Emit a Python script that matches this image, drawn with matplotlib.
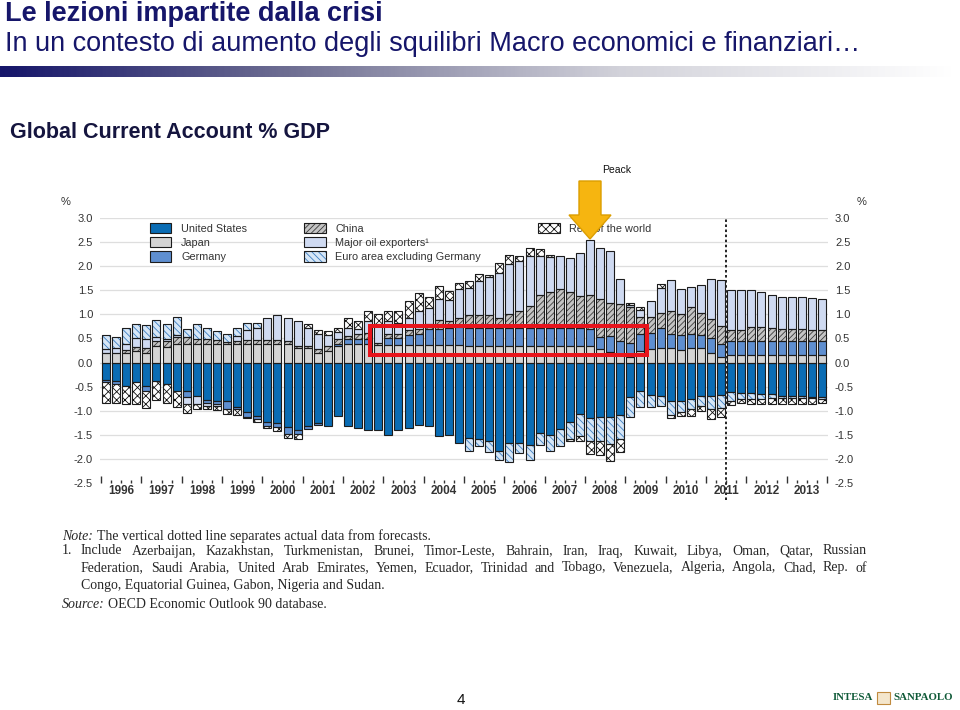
import numpy as np
import matplotlib
matplotlib.use("Agg")
import matplotlib.pyplot as plt
import matplotlib.transforms as mtransforms
from matplotlib.patches import Patch, Polygon, Rectangle
from matplotlib.legend_handler import HandlerTuple
from matplotlib.colors import LinearSegmentedColormap

plt.rcParams['font.family'] = ['Liberation Sans', 'DejaVu Sans']
plt.rcParams['hatch.linewidth'] = 0.6

# quarterly data, 1996Q1 - 2013Q4, % of world GDP
years = list(range(1996, 2014))

us = [-0.37, -0.38, -0.48, -0.41, -0.48, -0.39, -0.45, -0.59, -0.59, -0.69, -0.78, -0.79,
      -0.79, -0.93, -1.03, -1.10, -1.24, -1.26, -1.34, -1.40, -1.31, -1.26, -1.31, -1.10,
      -1.31, -1.36, -1.41, -1.41, -1.50, -1.41, -1.36, -1.30, -1.31, -1.52, -1.50, -1.66,
      -1.57, -1.59, -1.62, -1.83, -1.68, -1.66, -1.72, -1.47, -1.50, -1.38, -1.24, -1.07,
      -1.16, -1.12, -1.12, -1.08, -0.71, -0.60, -0.67, -0.69, -0.79, -0.79, -0.76, -0.69,
      -0.70, -0.67, -0.62, -0.63, -0.64, -0.65, -0.66, -0.69, -0.70, -0.70, -0.71, -0.72]

japan = [0.20, 0.19, 0.19, 0.24, 0.20, 0.34, 0.32, 0.38, 0.38, 0.38, 0.38, 0.38,
         0.38, 0.38, 0.38, 0.38, 0.38, 0.38, 0.38, 0.30, 0.30, 0.20, 0.24, 0.35,
         0.38, 0.39, 0.38, 0.37, 0.37, 0.37, 0.37, 0.37, 0.37, 0.37, 0.37, 0.37,
         0.35, 0.35, 0.35, 0.35, 0.35, 0.35, 0.35, 0.35, 0.35, 0.35, 0.35, 0.35,
         0.34, 0.28, 0.22, 0.17, 0.12, 0.24, 0.28, 0.30, 0.30, 0.25, 0.30, 0.30,
         0.20, 0.12, 0.16, 0.16, 0.16, 0.16, 0.16, 0.16, 0.16, 0.16, 0.16, 0.16]

germany = [-0.04, -0.07, 0.00, 0.00, -0.11, 0.00, 0.00, 0.00, -0.12, 0.00, -0.05, -0.07,
           -0.18, -0.03, -0.10, -0.07, -0.07, -0.07, -0.14, -0.08, -0.07, -0.04, 0.00, 0.04,
           0.10, 0.09, 0.10, 0.00, 0.13, 0.13, 0.20, 0.22, 0.33, 0.33, 0.35, 0.37,
           0.37, 0.37, 0.37, 0.37, 0.37, 0.37, 0.37, 0.37, 0.37, 0.37, 0.37, 0.37,
           0.35, 0.24, 0.33, 0.28, 0.28, 0.36, 0.34, 0.42, 0.30, 0.33, 0.30, 0.28,
           0.30, 0.26, 0.29, 0.29, 0.29, 0.29, 0.29, 0.29, 0.29, 0.29, 0.28, 0.28]

china = [0.00, 0.00, 0.07, 0.08, 0.11, 0.11, 0.13, 0.14, 0.14, 0.10, 0.10, 0.08,
         0.04, 0.07, 0.08, 0.08, 0.08, 0.09, 0.07, 0.04, 0.04, 0.08, 0.10, 0.09,
         0.08, 0.11, 0.14, 0.04, 0.09, 0.09, 0.10, 0.10, 0.10, 0.18, 0.14, 0.18,
         0.27, 0.27, 0.27, 0.20, 0.29, 0.36, 0.45, 0.68, 0.74, 0.80, 0.74, 0.67,
         0.72, 0.79, 0.68, 0.77, 0.75, 0.34, 0.32, 0.31, 0.47, 0.42, 0.55, 0.45,
         0.40, 0.37, 0.22, 0.22, 0.29, 0.29, 0.27, 0.25, 0.25, 0.25, 0.23, 0.23]

oil = [0.08, 0.12, 0.12, 0.18, 0.17, 0.07, 0.03, 0.05, -0.15, -0.17, -0.07, -0.05,
       0.00, 0.10, 0.21, 0.26, 0.46, 0.51, 0.47, 0.52, 0.37, 0.31, 0.24, 0.16,
       0.16, 0.10, 0.24, 0.38, 0.27, 0.24, 0.25, 0.37, 0.34, 0.43, 0.43, 0.60,
       0.55, 0.70, 0.79, 0.94, 1.04, 1.02, 1.04, 0.81, 0.73, 0.69, 0.71, 0.89,
       1.13, 1.07, 1.08, 0.52, 0.04, 0.16, 0.34, 0.52, 0.64, 0.52, 0.42, 0.57,
       0.84, 0.97, 0.83, 0.83, 0.76, 0.72, 0.69, 0.67, 0.67, 0.67, 0.67, 0.65]

euro = [0.29, 0.22, 0.33, 0.29, 0.30, 0.36, 0.33, 0.37, 0.17, 0.33, 0.24, 0.20,
        0.17, 0.16, 0.16, 0.11, 0.00, 0.00, 0.00, 0.00, 0.00, 0.00, 0.00, 0.00,
        0.00, 0.00, 0.00, 0.00, 0.00, 0.00, 0.00, 0.00, 0.00, 0.00, 0.00, 0.00,
        -0.26, -0.15, -0.23, -0.20, -0.39, -0.22, -0.31, -0.25, -0.33, -0.36, -0.35, -0.45,
        -0.46, -0.50, -0.57, -0.51, -0.43, -0.32, -0.25, -0.21, -0.30, -0.24, -0.21, -0.21,
        -0.27, -0.28, -0.18, -0.13, -0.12, -0.10, -0.08, -0.05, -0.04, -0.04, -0.03, -0.03]

rest = [-0.42, -0.38, -0.38, -0.45, -0.35, -0.39, -0.40, -0.34, -0.19, -0.11, -0.07, -0.08,
        -0.10, -0.12, -0.02, -0.07, -0.05, -0.10, -0.09, -0.10, 0.10, 0.08, 0.08, 0.08,
        0.21, 0.17, 0.20, 0.22, 0.22, 0.25, 0.36, 0.39, 0.22, 0.28, 0.19, 0.14,
        0.15, 0.14, 0.03, 0.21, 0.18, 0.11, 0.17, 0.15, 0.04, 0.00, -0.04, -0.10,
        -0.28, -0.29, -0.36, -0.27, 0.05, 0.06, 0.00, 0.07, -0.07, -0.07, -0.13, -0.10,
        -0.20, -0.18, -0.08, -0.09, -0.10, -0.12, -0.13, -0.13, -0.13, -0.13, -0.12, -0.10]

# name, values, face colour, hatch, hatch colour
series = [
    ("United States", us, "#0a6cb4", None, None),
    ("Japan", japan, "#d4d4d4", None, None),
    ("Germany", germany, "#5f8fd0", None, None),
    ("China", china, "#c4c4c4", "//////", "#3a3a3a"),
    ("Major oil exporters\u00b9", oil, "#cfdaf1", None, None),
    ("Euro area excluding Germany", euro, "#d6e6f6", "\\\\\\\\\\", "#3d7fc2"),
    ("Rest of the world", rest, "white", "xxxx", "#111111"),
]

fig = plt.figure(figsize=(9.6, 7.1), dpi=100)
ax = fig.add_axes([100 / 960, 1 - 483 / 710, 728 / 960, 265 / 710])

x = np.arange(len(us))
pos = np.zeros(len(us))
neg = np.zeros(len(us))
handles = []
for name, vals, fc, hatch, hc in series:
    v = np.array(vals)
    base = np.where(v >= 0, pos, neg)
    m = v != 0
    ax.bar(x[m], v[m], bottom=base[m], width=0.8, color=fc, hatch=hatch,
           edgecolor=hc if hc else fc, linewidth=0, zorder=2)
    ax.bar(x[m], v[m], bottom=base[m], width=0.8, fill=False,
           edgecolor="#1c1c1c", linewidth=0.8, zorder=3)
    pos += np.where(v > 0, v, 0)
    neg += np.where(v < 0, v, 0)
    handles.append((Patch(facecolor=fc, hatch=hatch, edgecolor=hc if hc else fc, linewidth=0),
                    Patch(fill=False, edgecolor="#1c1c1c", linewidth=0.8)))

blank = Patch(alpha=0)
labels = [s[0] for s in series] + ["", ""]
handles = handles + [blank, blank]
leg = ax.legend(handles, labels, ncol=3, loc="upper left", bbox_to_anchor=(0.068, 0.98),
                frameon=False, fontsize=7.85, handlelength=2.0, handleheight=1.05,
                handletextpad=0.9, labelspacing=0.3, columnspacing=5.2,
                borderpad=0, borderaxespad=0,
                handler_map={tuple: HandlerTuple(ndivide=1, pad=0)})
for t in leg.get_texts():
    t.set_color("#333333")

# grid and axes
for yv in np.arange(-2.0, 3.01, 0.5):
    ax.axhline(yv, color="#dedede", lw=0.9, zorder=0)
ax.set_xlim(-0.6, 71.6)
ax.set_ylim(-2.5, 3.0)
yt = np.arange(-2.5, 3.01, 0.5)
ax.set_yticks(yt)
ax.set_yticklabels([f"{v:.1f}" for v in yt])
ax.tick_params(axis="y", length=0, pad=5, labelsize=8, labelcolor="#333333",
               labelleft=True, labelright=True)
ax.set_xticks(np.arange(-0.5, 72, 4))
ax.set_xticks(np.arange(-0.5, 72, 1), minor=True)
ax.tick_params(axis="x", which="major", direction="in", length=5, width=1,
               color="#333333", labelbottom=False)
ax.tick_params(axis="x", which="minor", direction="in", length=2, width=1, color="#333333")
for s in ax.spines.values():
    s.set_visible(False)

trans = mtransforms.blended_transform_factory(ax.transData, ax.transAxes)
for i, yr in enumerate(years):
    ax.text(4 * i + 1.5, -0.032, str(yr), transform=trans, ha="center", va="center",
            fontsize=8.5, fontweight="bold", color="#333333")

# actual / forecast separator
ax.axvline(61.5, ymin=-0.065, ymax=1.0, color="#222222", ls=(0, (1.3, 1.3)), lw=1.4,
           clip_on=False, zorder=4)

# red highlight box
ax.add_patch(Rectangle((26.2, 0.15), 27.4, 0.6, fill=False, edgecolor="#e8141c",
                       lw=2.9, zorder=5, clip_on=False))

# slide decorations in pixel coordinates
ov = fig.add_axes([0, 0, 1, 1], zorder=5)
ov.patch.set_alpha(0)
grad = np.linspace(0, 1, 400).reshape(1, -1)
cmap = LinearSegmentedColormap.from_list(
    "band", [(0, "#16166a"), (0.3, "#6e6e92"), (0.65, "#d2d2da"), (1, "#ffffff")])
ov.imshow(grad, extent=[0, 955, 77, 66], aspect="auto", cmap=cmap)
ov.set_xlim(0, 960)
ov.set_ylim(710, 0)
ov.axis("off")

ov.text(5, 14, "Le lezioni impartite dalla crisi", fontsize=19.5, fontweight="bold",
        color="#16166a", va="center", ha="left")
ov.text(5, 44, "In un contesto di aumento degli squilibri Macro economici e finanziari\u2026",
        fontsize=19.5, color="#16166a", va="center", ha="left")
ov.text(10, 133, "Global Current Account % GDP", fontsize=15.5, fontweight="bold",
        color="#15153f", va="center", ha="left")

ov.text(66, 202, "%", fontsize=8, color="#333333", ha="center", va="center")
ov.text(862, 202, "%", fontsize=8, color="#333333", ha="center", va="center")

ov.add_patch(Polygon([(579, 181), (601, 181), (601, 215), (611, 215), (590, 239),
                      (569, 215), (579, 215)], closed=True, facecolor="#f6b510",
                     edgecolor="#dc9e00", lw=1))
ov.text(617, 170, "Peack", fontsize=7.5, ha="center", va="center", color="#111111")

# notes
serif = dict(family=["Liberation Serif", "DejaVu Serif"], fontsize=10, color="#262626",
             va="center")
renderer = fig.canvas.get_renderer()


def justified(x0, x1, y, s):
    words = s.split()
    ts = [ov.text(0, y, w, ha="left", **serif) for w in words]
    widths = [t.get_window_extent(renderer).width for t in ts]
    gap = (x1 - x0 - sum(widths)) / (len(words) - 1)
    xx = x0
    for t, w in zip(ts, widths):
        t.set_x(xx)
        xx += w + gap


ov.text(62, 536, "Note:", style="italic", ha="left", **serif)
ov.text(97, 536, "The vertical dotted line separates actual data from forecasts.", ha="left", **serif)
ov.text(62, 551, "1.", ha="left", **serif)
justified(81, 867, 551, "Include Azerbaijan, Kazakhstan, Turkmenistan, Brunei, Timor-Leste, "
          "Bahrain, Iran, Iraq, Kuwait, Libya, Oman, Qatar, Russian")
justified(81, 867, 568, "Federation, Saudi Arabia, United Arab Emirates, Yemen, Ecuador, "
          "Trinidad and Tobago, Venezuela, Algeria, Angola, Chad, Rep. of")
ov.text(81, 585, "Congo, Equatorial Guinea, Gabon, Nigeria and Sudan.", ha="left", **serif)
ov.text(62, 605, "Source:", style="italic", ha="left", **serif)
ov.text(108, 605, "OECD Economic Outlook 90 database.", ha="left", **serif)

# footer
ov.text(461, 700, "4", fontsize=11, ha="center", va="center", color="#111111")
logo = dict(family=["Liberation Serif", "DejaVu Serif"], fontsize=7.8, fontweight="bold",
            color="#0f5a38", va="center", ha="left")
ov.text(833, 698, "INTESA", **logo)
ov.add_patch(Rectangle((877, 692), 13, 12, facecolor="#f4e6cc", edgecolor="#c08a3e", lw=0.8))
ov.text(893, 698, "SANPAOLO", **logo)

fig.savefig("out.png", dpi=100)
